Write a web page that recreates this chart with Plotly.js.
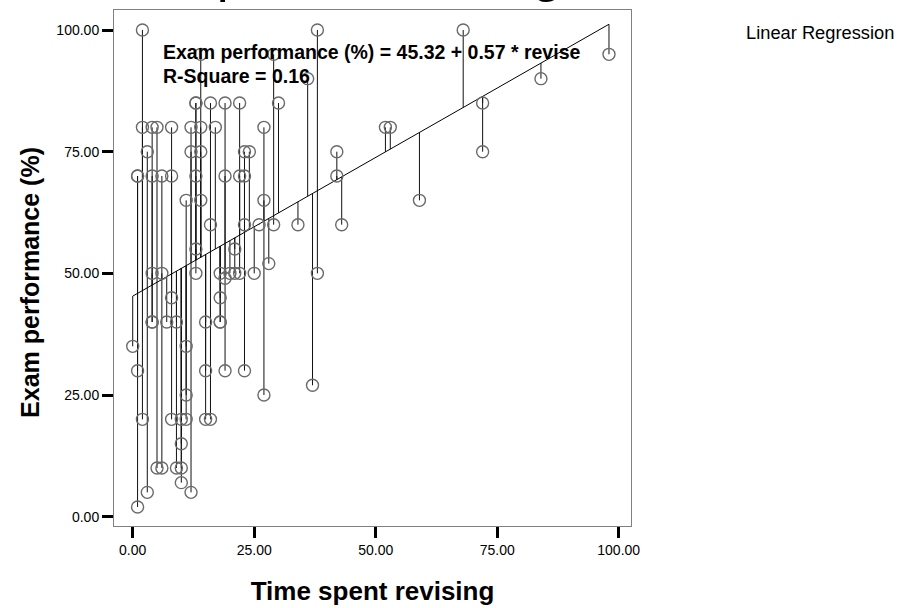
<!DOCTYPE html>
<html><head><meta charset="utf-8">
<script src="https://cdn.plot.ly/plotly-3.0.1.min.js"></script>
<style>html,body{margin:0;padding:0;background:#fff}</style>
</head><body><div id="chart" style="width:906px;height:608px"></div>
<script>
// Time spent revising (x) and Exam performance % (y)
const revise = [2,38,68, 14,29,98, 36,84, 13,13,16,19,22,30,72,
  2,4,5,8,12,14,17,27,52,53, 3,12,14,23,24,42,72,
  1,1,4,6,8,13,19,22,23,42, 11,14,27,59, 16,23,26,29,34,43,
  13,21, 28, 4,6,13,18,19,20,21,22,25,38, 8,18,
  4,4,7,9,15,18,18, 0,11, 1,15,19,23, 37, 11,27,
  2,8,10,11,15,16, 10, 5,6,9,10, 10, 3,12, 1];
const exam = [100,100,100, 95,95,95, 90,90, 85,85,85,85,85,85,85,
  80,80,80,80,80,80,80,80,80,80, 75,75,75,75,75,75,75,
  70,70,70,70,70,70,70,70,70,70, 65,65,65,65, 60,60,60,60,60,60,
  55,55, 52, 50,50,50,50,49,50,50,50,50,50, 45,45,
  40,40,40,40,40,40,40, 35,35, 30,30,30,30, 27, 25,25,
  20,20,20,20,20,20, 15, 10,10,10,10, 7, 5,5, 2];
const intercept = 45.32;
const slope = 0.57;
const tickValues = [0, 25, 50, 75, 100];
const equationText = 'Exam performance (%) = 45.32 + 0.57 * revise';
const rSquareText = 'R-Square = 0.16';
const xTitle = 'Time spent revising';
const yTitle = 'Exam performance (%)';
const legendText = 'Linear Regression';
const chartTitle = 'Simple Linear Regression';

const FONT = 'Liberation Sans, Arial, Helvetica, sans-serif';

// residual drop lines from each point to the fit line
const dropX = [], dropY = [];
for (let i = 0; i < revise.length; i++) {
  dropX.push(revise[i], revise[i], null);
  dropY.push(exam[i], intercept + slope * revise[i], null);
}
const xmin = Math.min(...revise), xmax = Math.max(...revise);
const fitX = [xmin, xmax];
const fitY = fitX.map(v => intercept + slope * v);

const traces = [
  {type:'scatter', mode:'lines', x:dropX, y:dropY, line:{color:'#111', width:1}, hoverinfo:'skip', showlegend:false},
  {type:'scatter', mode:'lines', x:fitX, y:fitY, line:{color:'#000', width:1}, name:legendText, showlegend:false},
  {type:'scatter', mode:'markers', x:revise, y:exam,
   marker:{symbol:'circle-open', size:12, color:'#6a6a6a', line:{width:1.4, color:'#6a6a6a'}}, showlegend:false}
];

const axisCommon = {
  showgrid:false, zeroline:false, showline:true, mirror:true,
  linecolor:'#808080', linewidth:1,
  ticks:'outside', ticklen:11, tickwidth:3, tickcolor:'#000',
  tickvals:tickValues, tickformat:'.2f',
  tickfont:{family:FONT, size:14, color:'#000'}
};

const layout = {
  width:906, height:608,
  margin:{l:114, r:275, t:10, b:82, pad:0},
  paper_bgcolor:'#fff', plot_bgcolor:'#fff',
  showlegend:false,
  title:{text:chartTitle, font:{family:FONT, size:53, color:'#000'},
    xref:'container', x:0.4735, xanchor:'center', yref:'paper', y:1, yanchor:'bottom', pad:{b:19,t:0,l:0,r:0}},
  xaxis:Object.assign({}, axisCommon, {range:[-3.85, 102.53],
    title:{text:'<b>'+xTitle+'</b>', font:{family:FONT, size:26, color:'#000'}, standoff:25}}),
  yaxis:Object.assign({}, axisCommon, {range:[-1.91, 104.11]}),
  annotations:[
    {text:'<b>'+yTitle+'</b>', xref:'paper', yref:'paper', x:-0.1625, y:0.473, xanchor:'center', yanchor:'middle',
     textangle:-90, showarrow:false, font:{family:FONT, size:25, color:'#000'}},
    {text:'<b>'+equationText+'</b>', xref:'paper', yref:'paper', x:0.091, y:0.918, xanchor:'left', yanchor:'middle',
     showarrow:false, font:{family:FONT, size:19.5, color:'#000'}},
    {text:'<b>'+rSquareText+'</b>', xref:'paper', yref:'paper', x:0.091, y:0.873, xanchor:'left', yanchor:'middle',
     showarrow:false, font:{family:FONT, size:19.5, color:'#000'}},
    {text:legendText, xref:'paper', yref:'paper', x:1.2186, y:0.956, xanchor:'left', yanchor:'middle',
     showarrow:false, font:{family:FONT, size:18.3, color:'#000'}}
  ]
};

Plotly.newPlot('chart', traces, layout, {displayModeBar:false, staticPlot:true});
</script>
</body></html>
